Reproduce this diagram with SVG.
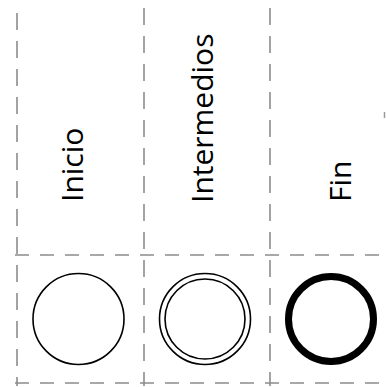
<svg xmlns="http://www.w3.org/2000/svg" width="386" height="387" viewBox="0 0 386 387">
  <style>
    .grid { stroke: #8c8c8c; stroke-width: 1.6; fill: none; }
    .v { stroke-dasharray: 17 11; }
    .h { stroke-dasharray: 14 11; }
    .lbl { font-family: "Open Sans", "Noto Sans", sans-serif; font-size: 30px; fill: #000; }
    .ev { fill: #fff; stroke: #000; }
  </style>
  <rect width="386" height="387" fill="#fff"/>
  <g id="grid">
    <line class="grid v" x1="17" y1="13" x2="17" y2="386"/>
    <line class="grid v" x1="144" y1="8" x2="144" y2="386"/>
    <line class="grid v" x1="270" y1="8" x2="270" y2="386"/>
    <line class="grid h" x1="15" y1="255" x2="386" y2="255"/>
    <line class="grid h" x1="15" y1="383" x2="386" y2="383"/>
    <line x1="384.5" y1="112" x2="384.5" y2="118" stroke="#999" stroke-width="1.5"/>
  </g>
  <g id="inicio">
    <text class="lbl" transform="translate(83,202) rotate(-90)">Inicio</text>
    <circle class="ev" cx="78.5" cy="319" r="45.5" stroke-width="1.6"/>
  </g>
  <g id="intermedios">
    <text class="lbl" transform="translate(213,203) rotate(-90)">Intermedios</text>
    <circle class="ev" cx="205" cy="319" r="45.5" stroke-width="1.6"/>
    <circle class="ev" cx="205" cy="319" r="40" stroke-width="1.6"/>
  </g>
  <g id="fin">
    <text class="lbl" transform="translate(351,202) rotate(-90)">Fin</text>
    <circle class="ev" cx="331" cy="319" r="42.5" stroke-width="7"/>
  </g>
</svg>
